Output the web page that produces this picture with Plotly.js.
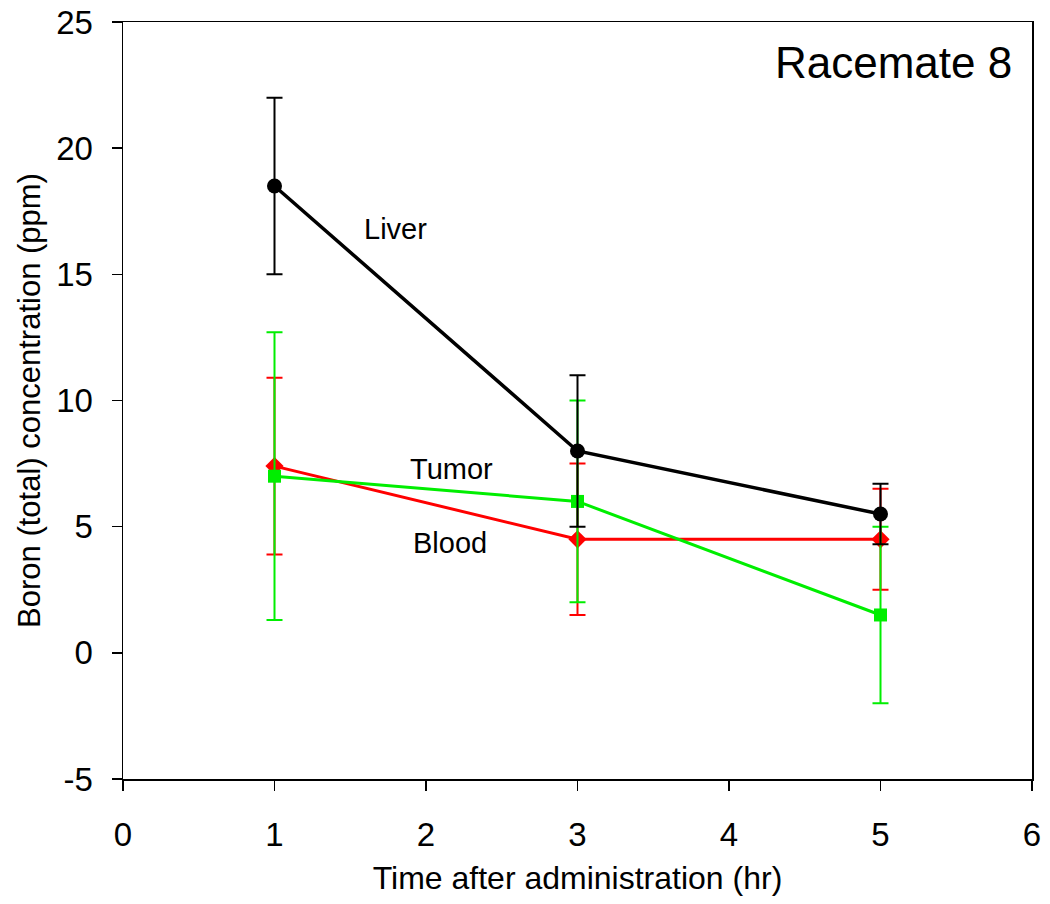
<!DOCTYPE html>
<html>
<head>
<meta charset="utf-8">
<script src="https://cdn.plot.ly/plotly-3.0.1.min.js"></script>
<style>
  html, body { margin: 0; padding: 0; background: #fff; }
  #chart { width: 1050px; height: 904px; }
</style>
</head>
<body>
<div id="chart"></div>
<script>
// Sampling times (hr)
const timeHr = [1, 3, 5];

// Boron (total) concentration, ppm, mean and +/- error
const liver = [18.5, 8.0, 5.5];
const liverErr = [3.5, 3.0, 1.2];

const tumor = [7.0, 6.0, 1.5];
const tumorErr = [5.7, 4.0, 3.5];

const blood = [7.4, 4.5, 4.5];
const bloodErr = [3.5, 3.0, 2.0];

// Axis ticks (plain hyphen for the minus, as in the original)
const yTickVals = [-5, 0, 5, 10, 15, 20, 25];
const yTickText = ['-5', '0', '5', '10', '15', '20', '25'];

// Labels placed next to the curves
const labelText = ['Liver', 'Tumor', 'Blood'];
const labelX = [1.8, 2.17, 2.16];
const labelY = [16.8, 7.3, 4.35];

const font = 'Liberation Sans, Arial, sans-serif';

function series(name, y, err, color, symbol, size, width) {
    return {
        x: timeHr,
        y: y,
        name: name,
        type: 'scatter',
        mode: 'lines+markers',
        line: {color: color, width: width},
        marker: {color: color, symbol: symbol, size: size},
        error_y: {type: 'data', array: err, visible: true, color: color, thickness: 2, width: 8}
    };
}

const traces = [
    series('Blood', blood, bloodErr, '#ff0000', 'diamond', 14, 3),
    series('Tumor', tumor, tumorErr, '#00ee00', 'square', 13, 3),
    series('Liver', liver, liverErr, '#000000', 'circle', 15, 3.5)
];

const annotations = labelText.map((t, i) => ({
    x: labelX[i], y: labelY[i], text: t, showarrow: false,
    xanchor: 'center', yanchor: 'middle',
    font: {family: font, size: 29, color: '#000'}
}));
annotations.push({
    x: 0.848, y: 0.947, xref: 'paper', yref: 'paper', text: 'Racemate 8', showarrow: false,
    xanchor: 'center', yanchor: 'middle',
    font: {family: font, size: 44, color: '#000'}
});

const layout = {
    width: 1050,
    height: 904,
    margin: {l: 123, r: 18, t: 22, b: 125},
    paper_bgcolor: '#fff',
    plot_bgcolor: '#fff',
    showlegend: false,
    font: {family: font, color: '#000'},
    xaxis: {
        range: [0, 6],
        dtick: 1,
        showgrid: false,
        zeroline: false,
        showline: true,
        mirror: true,
        linecolor: '#000',
        linewidth: 1.5,
        ticks: 'outside',
        ticklen: 10,
        tickwidth: 1.5,
        tickcolor: '#000',
        ticklabelstandoff: 16,
        tickfont: {family: font, size: 33},
        title: {text: 'Time after administration (hr)', font: {family: font, size: 32}, standoff: 14}
    },
    yaxis: {
        range: [-5, 25],
        tickmode: 'array',
        tickvals: yTickVals,
        ticktext: yTickText,
        showgrid: false,
        zeroline: false,
        showline: true,
        mirror: true,
        linecolor: '#000',
        linewidth: 1.5,
        ticks: 'outside',
        ticklen: 10,
        tickwidth: 1.5,
        tickcolor: '#000',
        ticklabelstandoff: 12,
        tickfont: {family: font, size: 33},
        title: {text: 'Boron (total) concentration (ppm)', font: {family: font, size: 31}, standoff: 6}
    },
    annotations: annotations
};

Plotly.newPlot('chart', traces, layout, {displayModeBar: false, staticPlot: true});
</script>
</body>
</html>
